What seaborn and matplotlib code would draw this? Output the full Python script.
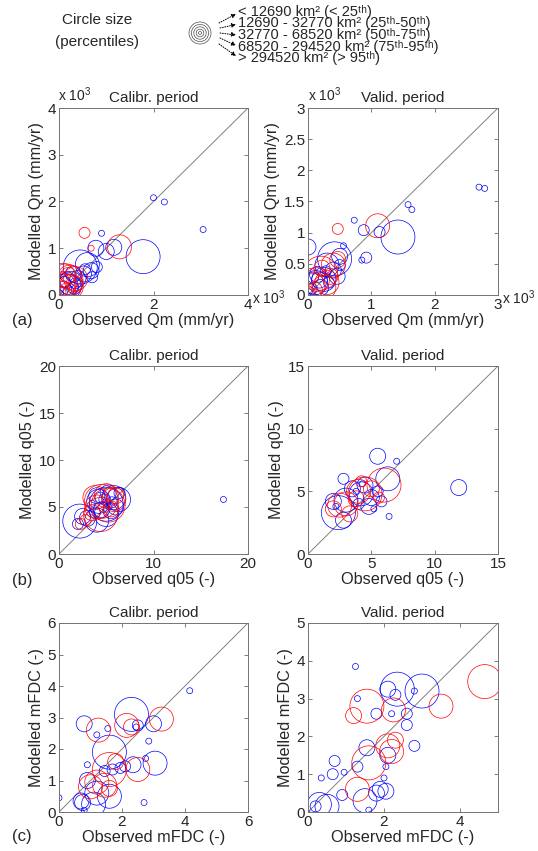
import numpy as np
import pandas as pd
import matplotlib
matplotlib.use("Agg")
import matplotlib.pyplot as plt
import seaborn as sns
from matplotlib.patches import Circle
from matplotlib.ticker import FuncFormatter

sns.set_style("ticks")
plt.rcParams['font.family'] = ['Liberation Sans', 'DejaVu Sans']
plt.rcParams['mathtext.fontset'] = 'custom'
plt.rcParams['mathtext.rm'] = 'Liberation Sans'
plt.rcParams['mathtext.it'] = 'Liberation Sans:italic'

# ---------------- data ----------------
# (a) mean annual flow Qm (mm/yr), calibration period
qm_cal_blue_obs = [2000, 2230, 3050, 900, 1780, 1160, 1000, 780, 450, 600, 520, 680, 700, 400, 300, 250, 150, 180, 100, 300, 60, 200, 350, 550, 120, 30, 800, 220]
qm_cal_blue_mod = [2080, 1990, 1400, 1320, 820, 1020, 930, 1000, 600, 650, 450, 520, 380, 350, 450, 250, 200, 320, 120, 150, 60, 80, 250, 550, 280, 30, 600, 180]
qm_cal_blue_cls = [1, 1, 1, 1, 5, 3, 3, 3, 5, 4, 3, 3, 2, 3, 3, 4, 4, 3, 3, 2, 2, 2, 2, 2, 2, 1, 2, 4]
qm_cal_red_obs = [1280, 680, 540, 150, 100, 220, 50, 260, 80, 320, 180, 40, 120, 350, 200, 30]
qm_cal_red_mod = [1030, 1000, 1330, 300, 200, 380, 150, 180, 420, 240, 90, 320, 250, 350, 420, 60]
qm_cal_red_cls = [4, 1, 2, 5, 4, 4, 3, 4, 4, 3, 3, 3, 4, 4, 3, 2]

# (a) validation period
qm_val_blue_obs = [2700, 2790, 1580, 1640, 730, 1420, 1130, 880, 0, 920, 850, 560, 420, 300, 500, 400, 250, 120, 200, 150, 60, 330, 500, 80, 20, 460, 280, 180]
qm_val_blue_mod = [1730, 1710, 1450, 1370, 1200, 930, 1010, 1040, 770, 600, 560, 790, 580, 480, 620, 400, 250, 200, 120, 330, 100, 200, 480, 280, 50, 300, 380, 240]
qm_val_blue_cls = [1, 1, 1, 1, 1, 5, 2, 2, 3, 2, 1, 1, 5, 4, 3, 3, 4, 4, 3, 3, 2, 2, 2, 2, 1, 3, 2, 3]
qm_val_red_obs = [1100, 470, 200, 470, 150, 80, 300, 220, 40, 350, 100, 250, 400, 30]
qm_val_red_mod = [1110, 1060, 350, 570, 250, 150, 200, 430, 300, 300, 80, 120, 480, 40]
qm_val_red_cls = [4, 2, 5, 3, 4, 4, 4, 3, 3, 3, 3, 4, 4, 2]

# (b) q05, calibration period
q05_cal_blue_obs = [17.4, 2.2, 2.5, 3.0, 2.0, 4.2, 5.0, 5.8, 6.3, 4.5, 5.5, 4.0, 5.2, 6.0, 4.8, 3.8, 5.6, 4.4, 6.4, 5.0, 4.0, 3.5, 5.3]
q05_cal_blue_mod = [5.8, 3.5, 4.0, 3.8, 3.2, 5.6, 5.3, 6.0, 5.8, 4.7, 4.6, 6.2, 6.5, 5.0, 5.8, 4.4, 5.5, 6.0, 6.5, 4.2, 3.6, 5.4, 5.0]
q05_cal_blue_cls = [1, 5, 3, 3, 2, 4, 5, 4, 4, 3, 3, 3, 3, 3, 2, 2, 2, 2, 2, 4, 4, 1, 1]
q05_cal_red_obs = [2.3, 4.5, 5.2, 4.0, 5.8, 3.8, 5.0, 4.4, 6.0, 3.5, 5.5, 4.8, 2.8]
q05_cal_red_mod = [3.2, 5.6, 5.2, 5.0, 5.8, 6.0, 6.2, 4.2, 6.2, 4.4, 4.8, 5.0, 3.6]
q05_cal_red_cls = [2, 5, 5, 4, 4, 4, 4, 5, 3, 3, 3, 2, 2]

# (b) validation period
q05_val_blue_obs = [11.9, 5.5, 7.0, 6.4, 2.4, 2.8, 6.3, 3.0, 2.0, 4.2, 4.5, 5.0, 4.0, 5.5, 3.5, 2.8, 4.8, 5.8, 4.3, 3.8, 5.2, 2.2]
q05_val_blue_mod = [5.3, 7.8, 7.4, 3.0, 3.3, 6.0, 6.0, 4.3, 4.2, 4.8, 5.5, 4.5, 4.0, 5.0, 5.2, 2.7, 3.8, 4.2, 5.6, 5.0, 3.6, 3.8]
q05_val_blue_cls = [3, 3, 1, 1, 5, 2, 4, 4, 3, 4, 3, 3, 2, 2, 3, 3, 3, 2, 1, 1, 1, 1]
q05_val_red_obs = [2.5, 3.0, 4.0, 4.5, 6.0, 2.0, 3.8, 5.0, 3.3, 5.6, 4.2]
q05_val_red_mod = [3.9, 4.0, 5.0, 4.8, 5.5, 3.6, 4.4, 5.2, 3.2, 4.5, 5.8]
q05_val_red_cls = [4, 4, 4, 5, 5, 3, 3, 3, 3, 2, 2]

# (c) mFDC, calibration period
mfdc_cal_blue_obs = [4.15, 0.0, 2.7, 2.85, 2.75, 1.2, 0.9, 0.8, 0.8, 1.55, 2.3, 1.6, 2.5, 3.0, 3.05, 2.35, 1.7, 1.95, 2.1, 0.9, 1.2, 0.7, 1.1, 1.6, 0.75, 1.45, 2.45]
mfdc_cal_blue_mod = [3.85, 0.45, 0.3, 2.25, 1.7, 2.45, 1.5, 0.05, 2.8, 2.65, 3.1, 1.9, 2.75, 2.8, 1.55, 1.5, 1.35, 1.4, 1.45, 1.0, 0.6, 0.35, 0.25, 0.5, 0.3, 1.3, 2.7]
mfdc_cal_blue_cls = [1, 1, 1, 1, 1, 1, 1, 1, 3, 1, 5, 5, 2, 3, 4, 3, 2, 2, 2, 3, 4, 3, 4, 4, 3, 2, 1]
mfdc_cal_red_obs = [2.15, 1.25, 2.3, 3.25, 2.5, 1.6, 1.0, 1.45, 1.2, 1.6, 1.8]
mfdc_cal_red_mod = [2.75, 2.6, 2.7, 2.95, 1.35, 1.35, 0.8, 0.85, 0.95, 0.75, 1.6]
mfdc_cal_red_cls = [4, 4, 3, 4, 4, 5, 4, 4, 4, 3, 3]

# (c) validation period
mfdc_val_blue_obs = [1.25, 1.3, 2.8, 2.2, 0.35, 0.95, 1.6, 2.0, 2.05, 2.35, 3.0, 1.8, 2.1, 2.3, 2.6, 2.6, 1.55, 2.1, 2.8, 0.7, 0.65, 1.3, 0.9, 0.3, 0.5, 1.5, 1.9, 1.8, 2.05, 0.2]
mfdc_val_blue_mod = [3.85, 3.0, 3.2, 2.6, 0.9, 1.05, 0.05, 0.9, 1.2, 3.25, 3.2, 2.6, 3.25, 3.1, 2.6, 2.3, 1.7, 1.5, 1.75, 1.35, 1.0, 1.2, 0.45, 0.2, 0.15, 0.3, 0.6, 0.5, 0.55, 0.15]
mfdc_val_blue_cls = [1, 1, 1, 1, 1, 1, 1, 1, 1, 5, 5, 2, 3, 2, 2, 2, 3, 3, 2, 2, 2, 2, 2, 4, 4, 4, 3, 3, 3, 2]
mfdc_val_red_obs = [4.65, 3.5, 1.55, 1.2, 2.25, 2.1, 2.2, 1.6, 1.3, 2.3]
mfdc_val_red_mod = [3.45, 2.8, 2.8, 2.55, 2.7, 1.75, 1.6, 1.3, 0.6, 1.9]
mfdc_val_red_cls = [5, 4, 5, 3, 4, 4, 4, 5, 4, 3]

size_classes = [1, 2, 3, 4, 5]
legend_labels = ["< 12690 km² (< 25ᵗʰ)",
                 "12690 - 32770 km² (25ᵗʰ-50ᵗʰ)",
                 "32770 - 68520 km² (50ᵗʰ-75ᵗʰ)",
                 "68520 - 294520 km² (75ᵗʰ-95ᵗʰ)",
                 "> 294520 km² (> 95ᵗʰ)"]

# ---------------- styling ----------------
W, H = 538, 851
DPI = 100
diam_px = {1: 6, 2: 11, 3: 16, 4: 24, 5: 34}
SIZES = {k: (d * 72 / DPI) ** 2 for k, d in diam_px.items()}
PAL = {"blue": "#0000ff", "red": "#ff0000"}

fig = plt.figure(figsize=(W / DPI, H / DPI), dpi=DPI)


def frame(blue_obs, blue_mod, blue_cls, red_obs, red_mod, red_cls):
    d = pd.DataFrame({
        "obs": list(blue_obs) + list(red_obs),
        "mod": list(blue_mod) + list(red_mod),
        "cls": list(blue_cls) + list(red_cls),
        "col": ["blue"] * len(blue_obs) + ["red"] * len(red_obs),
    })
    return d


def px_axes(left, top, right, bottom):
    return fig.add_axes([left / W, 1 - bottom / H, (right - left) / W, (bottom - top) / H])


def panel(ax, df, lim, xt, yt, xlabel, ylabel, title, scale=1.0):
    ax.plot([0, lim], [0, lim], color="0.5", lw=0.7, zorder=1)
    sns.scatterplot(data=df, x="obs", y="mod", hue="col", palette=PAL,
                    size="cls", sizes=SIZES, legend=False, linewidth=0.5,
                    ax=ax, zorder=2)
    for coll in ax.collections:
        fc = coll.get_facecolors()
        coll.set_edgecolors(fc)
        coll.set_facecolors("none")
    ax.set_xlim(0, lim)
    ax.set_ylim(0, lim)
    ax.set_xticks(xt)
    ax.set_yticks(yt)
    fmt = FuncFormatter(lambda v, p: ("%g" % (v / scale)))
    ax.xaxis.set_major_formatter(fmt)
    ax.yaxis.set_major_formatter(fmt)
    ax.tick_params(direction="in", length=3, width=0.6, color="0.4",
                   labelsize=11, top=True, right=True, pad=2)
    for sp in ax.spines.values():
        sp.set_color("0.45")
        sp.set_linewidth(0.7)
    ax.set_xlabel(xlabel, fontsize=11.7, labelpad=1)
    ax.set_ylabel(ylabel, fontsize=11.7, labelpad=3)
    ax.set_title(title, fontsize=11, pad=4)


def ftext(x, y, s, **kw):
    return fig.text(x / W, 1 - y / H, s, **kw)


# (a)
ax = px_axes(59, 108, 248, 295)
panel(ax, frame(qm_cal_blue_obs, qm_cal_blue_mod, qm_cal_blue_cls,
                qm_cal_red_obs, qm_cal_red_mod, qm_cal_red_cls),
      4000, [0, 2000, 4000], [0, 1000, 2000, 3000, 4000],
      "Observed Qm (mm/yr)", "Modelled Qm (mm/yr)", "Calibr. period", scale=1000)
ax = px_axes(308, 108, 498, 295)
panel(ax, frame(qm_val_blue_obs, qm_val_blue_mod, qm_val_blue_cls,
                qm_val_red_obs, qm_val_red_mod, qm_val_red_cls),
      3000, [0, 1000, 2000, 3000], [0, 500, 1000, 1500, 2000, 2500, 3000],
      "Observed Qm (mm/yr)", "Modelled Qm (mm/yr)", "Valid. period", scale=1000)
for (x, y) in [(58, 95), (252, 298), (308, 95), (502, 298)]:
    ftext(x, y, r"x 10$^3$", fontsize=10, va="center", ha="left")

# (b)
ax = px_axes(59, 366, 248, 554)
panel(ax, frame(q05_cal_blue_obs, q05_cal_blue_mod, q05_cal_blue_cls,
                q05_cal_red_obs, q05_cal_red_mod, q05_cal_red_cls),
      20, [0, 10, 20], [0, 5, 10, 15, 20],
      "Observed q05 (-)", "Modelled q05 (-)", "Calibr. period")
ax = px_axes(308, 366, 498, 554)
panel(ax, frame(q05_val_blue_obs, q05_val_blue_mod, q05_val_blue_cls,
                q05_val_red_obs, q05_val_red_mod, q05_val_red_cls),
      15, [0, 5, 10, 15], [0, 5, 10, 15],
      "Observed q05 (-)", "Modelled q05 (-)", "Valid. period")

# (c)
ax = px_axes(59, 623, 248, 812)
panel(ax, frame(mfdc_cal_blue_obs, mfdc_cal_blue_mod, mfdc_cal_blue_cls,
                mfdc_cal_red_obs, mfdc_cal_red_mod, mfdc_cal_red_cls),
      6, [0, 2, 4, 6], [0, 1, 2, 3, 4, 5, 6],
      "Observed mFDC (-)", "Modelled mFDC (-)", "Calibr. period")
ax = px_axes(308, 623, 498, 812)
panel(ax, frame(mfdc_val_blue_obs, mfdc_val_blue_mod, mfdc_val_blue_cls,
                mfdc_val_red_obs, mfdc_val_red_mod, mfdc_val_red_cls),
      5, [0, 2, 4], [0, 1, 2, 3, 4, 5],
      "Observed mFDC (-)", "Modelled mFDC (-)", "Valid. period")

# panel letters
for lab, y in [("(a)", 321), ("(b)", 580), ("(c)", 837)]:
    ftext(12, y, lab, fontsize=12, va="center", ha="left")

# ---------------- size legend ----------------
lax = fig.add_axes([0, 0, 1, 1], zorder=10)
lax.set_xlim(0, W)
lax.set_ylim(H, 0)
lax.axis("off")
cx, cy = 200, 33
for r in [1.5, 3.8, 6.2, 8.6, 11.0]:
    lax.add_patch(Circle((cx, cy), r, fill=False, lw=0.5, ec="0.3"))
ftext(97, 20, "Circle size", fontsize=11, ha="center", va="center")
ftext(97, 42, "(percentiles)", fontsize=11, ha="center", va="center")
text_y = [14, 24.5, 35, 45.5, 56]
starts = [(219, 23), (220, 28), (220, 33), (220, 38), (219, 44)]
for ty, st in zip(text_y, starts):
    lax.annotate("", xy=(236, ty), xytext=st,
                 arrowprops=dict(arrowstyle="-|>", linestyle=(0, (1, 1.5)),
                                 lw=0.7, color="k", mutation_scale=6,
                                 shrinkA=0, shrinkB=0))
ftext(238, 35, "\n".join(legend_labels), fontsize=10.5, ha="left", va="center",
      linespacing=0.78)

fig.savefig("out.png", dpi=DPI)
